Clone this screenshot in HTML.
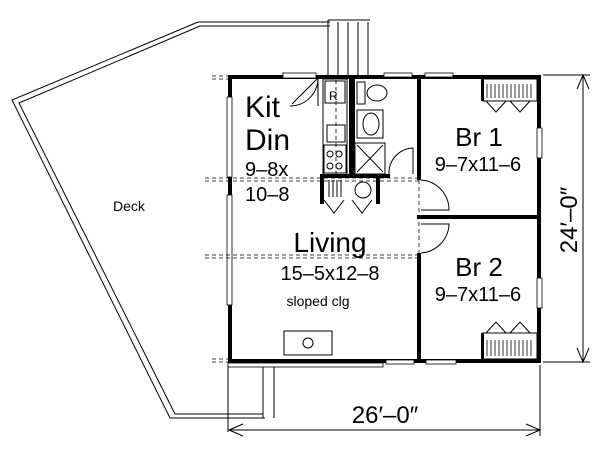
<!DOCTYPE html>
<html><head><style>html,body{margin:0;padding:0;background:#fff}svg{display:block}</style></head><body>
<svg width="600" height="450" viewBox="0 0 600 450" xmlns="http://www.w3.org/2000/svg" font-family="'Liberation Sans', sans-serif">
<rect width="600" height="450" fill="#fff"/>
<!-- deck -->
<polyline points="330,22 198,22 12,100 170,418 265,418" fill="none" stroke="#000" stroke-width="1"/>
<polyline points="330,26 200,26 19,103 175,414 263,414" fill="none" stroke="#000" stroke-width="1"/>
<line x1="263" y1="365" x2="263" y2="418" stroke="#000"/>
<line x1="274" y1="365" x2="274" y2="418" stroke="#000"/>
<line x1="228" y1="365" x2="228" y2="432" stroke="#000"/>
<!-- stairs -->
<g stroke="#000" stroke-width="1">
<line x1="328" y1="20" x2="328" y2="77"/><line x1="338" y1="22" x2="338" y2="77"/><line x1="348" y1="22" x2="348" y2="77"/><line x1="358" y1="22" x2="358" y2="77"/><line x1="368" y1="22" x2="368" y2="77"/>
<line x1="328" y1="20" x2="370" y2="20"/>
</g>
<text x="113" y="211" font-size="14">Deck</text>
<!-- outer walls -->
<g fill="#000">
<rect x="228" y="75" width="312" height="4"/>
<rect x="228" y="75" width="4" height="288"/>
<rect x="537" y="75" width="4" height="288"/>
<rect x="228" y="359" width="313" height="4"/>
<rect x="417" y="75" width="4" height="105"/>
<rect x="417" y="253" width="4" height="110"/>
<rect x="417" y="215" width="124" height="4"/>
<rect x="349" y="77" width="6" height="100"/>
<rect x="322" y="174" width="68" height="4"/>
<rect x="320" y="174" width="4" height="30"/>
<rect x="376" y="174" width="4" height="30"/>
</g>
<!-- windows -->
<g fill="#fff" stroke="#000" stroke-width="0.8">
<rect x="227" y="97" width="5" height="80"/><rect x="227" y="195" width="5" height="110"/>
<rect x="384" y="73" width="28" height="4"/><rect x="425" y="73" width="28" height="4"/>
<rect x="537" y="128" width="5" height="30"/><rect x="537" y="278" width="5" height="30"/>
<rect x="386" y="360" width="28" height="4"/><rect x="426" y="360" width="30" height="4"/>
<rect x="283" y="73" width="33" height="5"/>
</g>
<rect x="228" y="363" width="155" height="4" fill="#fff" stroke="#000" stroke-width="0.8"/>
<!-- dashed lines -->
<g stroke="#000" stroke-dasharray="4,3" stroke-width="0.8" fill="none">
<line x1="205" y1="178" x2="420" y2="178"/><line x1="205" y1="181" x2="420" y2="181"/>
<line x1="205" y1="255" x2="420" y2="255"/><line x1="205" y1="258" x2="420" y2="258"/>
<line x1="212" y1="76" x2="228" y2="76"/><line x1="212" y1="79" x2="228" y2="79"/>
<line x1="212" y1="359" x2="228" y2="359"/><line x1="212" y1="362" x2="228" y2="362"/>
<line x1="336" y1="80" x2="336" y2="174"/>
<line x1="419" y1="180" x2="419" y2="253"/>
</g>
<!-- kitchen -->
<g fill="none" stroke="#000" stroke-width="1">
<rect x="323" y="79" width="24" height="96"/>
<rect x="325" y="81" width="20" height="22"/>
<rect x="327" y="125" width="18" height="17"/>
<rect x="324" y="145" width="22" height="28"/>
<circle cx="330" cy="154" r="3"/><circle cx="339" cy="154" r="3"/><circle cx="330" cy="166" r="3"/><circle cx="339" cy="166" r="3"/>
<path d="M318,78 A28,28 0 0 1 290,106 M318,78 L292,104"/>
<line x1="318" y1="78" x2="318" y2="106"/>
<!-- bath -->
<rect x="357" y="82" width="8" height="22"/><ellipse cx="377" cy="93" rx="10" ry="8"/>
<rect x="357" y="110" width="26" height="28"/><ellipse cx="371" cy="124" rx="8" ry="11"/>
<rect x="355" y="143" width="30" height="31"/><path d="M357,145 L383,172 M383,145 L357,172"/>
<path d="M413,174 L413,148 A25,25 0 0 0 389,174"/>
<!-- closet -->
<path d="M324,200 L334,213 L344,200 M352,200 L362,213 L372,200"/>
<circle cx="363" cy="190" r="8"/>
<path d="M329,180 L329,197 M333,180 L333,197 M337,180 L337,197 M341,180 L341,197"/>
<!-- doors br -->
<path d="M421,180 A30,30 0 0 1 449,210 L421,210"/>
<path d="M421,224 L449,224 A30,30 0 0 1 421,253"/>
<!-- br closets -->
<rect x="483" y="79" width="54" height="22"/>
<path d="M486,101 L496,112 L506,101 M510,101 L520,112 L530,101"/>
<rect x="483" y="333" width="54" height="26"/>
<path d="M486,333 L496,322 L506,333 M510,333 L520,322 L530,333"/>
<!-- fireplace -->
<rect x="284" y="331" width="48" height="24"/><circle cx="308" cy="343" r="5"/>
</g>
<g stroke="#000" stroke-width="0.8">
<path d="M487,84 v14 M491,84 v14 M495,84 v14 M499,84 v14 M503,84 v14 M507,84 v14 M511,84 v14 M515,84 v14 M519,84 v14 M523,84 v14 M527,84 v14 M531,84 v14"/>
<path d="M487,340 v16 M491,340 v16 M495,340 v16 M499,340 v16 M503,340 v16 M507,340 v16 M511,340 v16 M515,340 v16 M519,340 v16 M523,340 v16 M527,340 v16 M531,340 v16"/>
</g>
<rect x="481" y="79" width="3" height="22" fill="#000"/>
<rect x="481" y="333" width="3" height="26" fill="#000"/>
<text x="329" y="100" font-size="12">R</text>
<!-- dimensions -->
<g stroke="#000" stroke-width="1" fill="none">
<line x1="540" y1="365" x2="540" y2="436"/>
<line x1="229" y1="430" x2="540" y2="430"/>
<path d="M243,424 L229,430 L243,436 M526,424 L540,430 L526,436"/>
<line x1="543" y1="75" x2="590" y2="75"/><line x1="543" y1="362" x2="590" y2="362"/>
<line x1="583" y1="75" x2="583" y2="362"/>
<path d="M577,89 L583,75 L589,89 M577,348 L583,362 L589,348"/>
</g>
<g fill="#000">
<text x="385" y="423" font-size="24" text-anchor="middle">26′–0″</text>
<text transform="translate(577,220) rotate(-90)" font-size="24" text-anchor="middle">24′–0″</text>
<text x="245" y="117" font-size="30">Kit</text>
<text x="245" y="150" font-size="30">Din</text>
<text x="245" y="176" font-size="20">9–8x</text>
<text x="245" y="201" font-size="20">10–8</text>
<text x="330" y="252" font-size="28" text-anchor="middle">Living</text>
<text x="330" y="280" font-size="20" text-anchor="middle">15–5x12–8</text>
<text x="318" y="306" font-size="14" text-anchor="middle">sloped clg</text>
<text x="479" y="146" font-size="26" text-anchor="middle">Br 1</text>
<text x="478" y="171" font-size="20" text-anchor="middle">9–7x11–6</text>
<text x="479" y="276" font-size="26" text-anchor="middle">Br 2</text>
<text x="478" y="301" font-size="20" text-anchor="middle">9–7x11–6</text>
</g>
</svg>
</body></html>
